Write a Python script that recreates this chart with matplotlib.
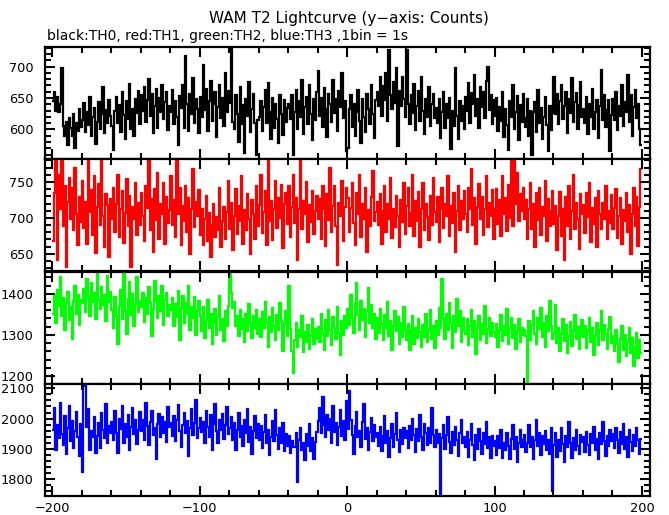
"""WAM T2 light curve: four threshold channels stacked, 1 s bins."""

from __future__ import annotations

import matplotlib

matplotlib.use("Agg")
import matplotlib.pyplot as plt
import numpy as np
from matplotlib.ticker import MultipleLocator

plt.rcParams["font.family"] = ["DejaVu Sans"]

TITLE = "WAM T2 Lightcurve (y\u2212axis: Counts)"
SUBTITLE = "black:TH0, red:TH1, green:TH2, blue:TH3 ,1bin = 1s"

# bin edges in seconds, 1 s per bin
time_start = -200
time_stop = 200

# counts per 1 s bin (20 bins per row)
th0_counts = [
    645, 660, 630, 652, 628, 641, 697, 606, 590, 612, 575, 618, 602, 589, 624, 571, 610, 598, 633, 604,
    615, 642, 596, 628, 607, 651, 589, 620, 634, 577, 612, 643, 600, 625, 668, 594, 631, 610, 646, 622,
    605, 567, 630, 652, 611, 639, 596, 660, 623, 584, 645, 617, 672, 601, 633, 590, 648, 626, 661, 609,
    654, 629, 668, 612, 647, 680, 621, 656, 594, 638, 665, 603, 650, 627, 671, 616, 643, 659, 599, 637,
    628, 662, 609, 645, 619, 575, 653, 634, 671, 602, 716, 640, 598, 657, 625, 681, 611, 648, 633, 594,
    652, 620, 703, 631, 664, 598, 645, 677, 613, 640, 659, 588, 636, 670, 618, 650, 605, 689, 627, 661,
    642, 731, 612, 600, 654, 625, 580, 667, 608, 639, 562, 648, 621, 675, 596, 633, 656, 611, 560, 615,
    619, 645, 598, 636, 662, 610, 673, 627, 585, 650, 603, 641, 616, 579, 655, 624, 591, 647, 612, 634,
    640, 617, 655, 560, 628, 662, 601, 645, 619, 678, 593, 636, 651, 608, 670, 624, 583, 648, 615, 659,
    693, 622, 650, 604, 666, 633, 588, 657, 641, 612, 679, 626, 649, 597, 661, 635, 690, 618, 645, 566,
    571, 632, 655, 604, 641, 590, 627, 662, 613, 579, 648, 620, 596, 657, 633, 608, 671, 625, 587, 646,
    659, 638, 683, 621, 669, 647, 690, 613, 727, 655, 632, 676, 642, 698, 574, 661, 637, 684, 649, 620,
    727, 641, 608, 655, 626, 672, 599, 637, 661, 614, 683, 629, 592, 648, 620, 667, 605, 640, 656, 618,
    634, 611, 649, 587, 627, 660, 603, 640, 618, 650, 569, 629, 606, 697, 622, 584, 645, 613, 638, 600,
    652, 629, 673, 611, 658, 640, 686, 622, 649, 602, 667, 635, 660, 618, 677, 700, 631, 655, 609, 646,
    621, 650, 597, 636, 613, 660, 588, 632, 607, 568, 645, 619, 671, 600, 628, 653, 583, 639, 612, 657,
    618, 604, 649, 590, 630, 560, 627, 643, 596, 662, 611, 634, 585, 620, 651, 607, 565, 638, 599, 626,
    683, 624, 656, 608, 645, 671, 617, 637, 660, 594, 649, 626, 681, 612, 643, 658, 601, 639, 676, 620,
    633, 610, 652, 593, 641, 620, 664, 601, 628, 647, 586, 637, 695, 615, 655, 604, 631, 647, 566, 623,
    648, 615, 660, 599, 637, 622, 671, 606, 643, 628, 686, 612, 654, 590, 635, 663, 618, 641, 600, 575,
]
th1_counts = [
    668, 735, 790, 642, 760, 712, 790, 688, 745, 631, 722, 756, 698, 741, 683, 770, 705, 662, 729, 694,
    751, 686, 722, 664, 790, 708, 739, 676, 758, 651, 715, 747, 690, 788, 702, 659, 733, 718, 645, 726,
    699, 742, 681, 720, 760, 673, 712, 738, 665, 707, 754, 688, 730, 632, 715, 699, 748, 676, 721, 690,
    735, 702, 668, 745, 714, 790, 683, 726, 652, 740, 697, 763, 671, 719, 706, 748, 664, 729, 693, 711,
    758, 690, 725, 673, 790, 706, 741, 662, 717, 695, 744, 681, 728, 650, 712, 768, 687, 722, 703, 739,
    676, 712, 662, 698, 730, 668, 707, 645, 690, 720, 673, 701, 683, 742, 660, 695, 715, 670, 708, 752,
    685, 721, 655, 703, 740, 677, 716, 696, 758, 664, 711, 683, 733, 698, 650, 725, 705, 671, 744, 689,
    718, 760, 679, 708, 737, 662, 790, 695, 724, 669, 713, 751, 686, 727, 700, 746, 658, 719, 734, 692,
    745, 673, 715, 760, 693, 728, 641, 712, 789, 684, 723, 705, 750, 666, 718, 694, 737, 677, 710, 730,
    698, 726, 670, 745, 712, 661, 733, 697, 770, 680, 717, 744, 689, 634, 721, 703, 752, 668, 715, 741,
    727, 681, 714, 748, 693, 662, 735, 706, 760, 674, 719, 699, 741, 653, 711, 688, 729, 765, 695, 708,
    722, 690, 733, 664, 710, 745, 681, 719, 698, 756, 672, 712, 687, 731, 703, 660, 725, 694, 748, 677,
    716, 742, 688, 707, 760, 675, 723, 696, 736, 659, 712, 748, 683, 720, 701, 669, 731, 690, 755, 708,
    694, 729, 667, 712, 741, 686, 720, 703, 758, 675, 716, 693, 734, 652, 710, 745, 683, 724, 698, 737,
    705, 680, 741, 712, 768, 690, 727, 664, 715, 747, 698, 729, 676, 712, 758, 687, 721, 702, 739, 671,
    713, 740, 691, 725, 675, 759, 706, 728, 682, 746, 700, 781, 688, 790, 720, 762, 695, 733, 710, 742,
    699, 725, 670, 712, 748, 684, 719, 660, 734, 697, 741, 676, 715, 703, 752, 668, 726, 689, 710, 738,
    691, 717, 655, 702, 736, 675, 712, 642, 729, 688, 745, 670, 710, 760, 684, 721, 699, 657, 733, 706,
    718, 679, 735, 701, 749, 667, 714, 692, 728, 660, 738, 705, 684, 721, 698, 745, 671, 710, 693, 732,
    685, 714, 740, 672, 703, 727, 664, 711, 696, 735, 680, 718, 650, 706, 741, 688, 729, 661, 715, 768,
]
th2_counts = [
    1352, 1395, 1328, 1410, 1371, 1440, 1345, 1389, 1312, 1377, 1405, 1336, 1368, 1291, 1383, 1420, 1350, 1397, 1325, 1386,
    1378, 1412, 1356, 1436, 1391, 1347, 1425, 1380, 1402, 1339, 1448, 1386, 1364, 1417, 1372, 1398, 1333, 1444, 1381, 1405,
    1360, 1318, 1392, 1345, 1277, 1371, 1410, 1338, 1447, 1359, 1302, 1387, 1428, 1349, 1399, 1322, 1375, 1441, 1356, 1383,
    1368, 1402, 1331, 1389, 1350, 1416, 1378, 1297, 1364, 1431, 1382, 1340, 1395, 1358, 1419, 1325, 1384, 1403, 1347, 1372,
    1361, 1389, 1322, 1376, 1343, 1406, 1288, 1365, 1394, 1330, 1378, 1352, 1420, 1311, 1369, 1340, 1391, 1300, 1357, 1382,
    1345, 1310, 1368, 1292, 1337, 1385, 1318, 1350, 1278, 1329, 1362, 1301, 1344, 1395, 1313, 1338, 1286, 1357, 1322, 1371,
    1448, 1402, 1365, 1380, 1322, 1346, 1298, 1361, 1315, 1339, 1283, 1352, 1310, 1374, 1328, 1293, 1345, 1316, 1360, 1302,
    1338, 1295, 1356, 1317, 1381, 1328, 1270, 1343, 1306, 1365, 1321, 1287, 1349, 1312, 1377, 1334, 1260, 1326, 1359, 1298,
    1420, 1315, 1262, 1208, 1287, 1330, 1271, 1312, 1294, 1346, 1258, 1308, 1283, 1325, 1266, 1301, 1339, 1277, 1315, 1290,
    1320, 1284, 1352, 1305, 1263, 1337, 1298, 1361, 1311, 1276, 1343, 1318, 1290, 1369, 1305, 1252, 1333, 1299, 1346, 1316,
    1362, 1323, 1398, 1340, 1305, 1377, 1426, 1349, 1311, 1383, 1337, 1364, 1296, 1358, 1415, 1330, 1372, 1318, 1351, 1289,
    1341, 1305, 1362, 1326, 1287, 1349, 1316, 1380, 1298, 1335, 1264, 1322, 1357, 1309, 1343, 1277, 1330, 1296, 1368, 1311,
    1288, 1327, 1263, 1312, 1345, 1279, 1318, 1293, 1339, 1306, 1271, 1325, 1296, 1352, 1283, 1314, 1360, 1290, 1322, 1268,
    1335, 1301, 1366, 1318, 1435, 1339, 1290, 1352, 1312, 1377, 1328, 1269, 1345, 1306, 1388, 1321, 1357, 1283, 1341, 1310,
    1302, 1338, 1275, 1321, 1360, 1295, 1334, 1254, 1317, 1346, 1288, 1326, 1303, 1371, 1280, 1315, 1342, 1297, 1329, 1308,
    1296, 1327, 1270, 1311, 1348, 1285, 1322, 1301, 1362, 1279, 1316, 1340, 1292, 1325, 1266, 1309, 1338, 1283, 1318, 1299,
    1312, 1297, 1185, 1335, 1288, 1325, 1359, 1303, 1277, 1340, 1315, 1366, 1294, 1328, 1270, 1345, 1310, 1382, 1321, 1290,
    1305, 1372, 1281, 1318, 1262, 1303, 1339, 1286, 1325, 1256, 1297, 1331, 1272, 1310, 1348, 1289, 1320, 1266, 1301, 1336,
    1294, 1321, 1268, 1309, 1342, 1283, 1317, 1251, 1298, 1330, 1276, 1311, 1358, 1288, 1324, 1302, 1265, 1315, 1343, 1280,
    1297, 1260, 1313, 1278, 1235, 1290, 1322, 1264, 1301, 1248, 1283, 1316, 1256, 1292, 1225, 1270, 1305, 1243, 1288, 1257,
]
th3_counts = [
    1962, 2035, 1897, 1978, 1935, 2052, 1948, 1912, 2010, 1883, 1969, 2041, 1926, 1991, 1904, 1958, 2023, 1939, 1876, 1983,
    1825, 2108, 2112, 1972, 2031, 1895, 1959, 1941, 2004, 1888, 1944, 1986, 1903, 2019, 1962, 1935, 2047, 1918, 1977, 1951,
    1990, 1928, 2026, 1954, 1887, 2000, 1967, 2043, 1921, 1981, 1940, 2012, 1898, 1973, 2035, 1949, 1994, 1916, 1963, 2021,
    1958, 1997, 1930, 2052, 1976, 1913, 1989, 2024, 1945, 1969, 1868, 1982, 2015, 1939, 2006, 1952, 1990, 1924, 2038, 1971,
    1985, 1943, 2010, 1927, 1996, 2044, 1960, 1905, 1979, 2018, 1951, 1993, 1876, 1968, 2031, 1947, 1984, 2060, 1936, 1970,
    2002, 1955, 1988, 1919, 2026, 1973, 1940, 2011, 1896, 1982, 2047, 1958, 1921, 1995, 1964, 2015, 1933, 1979, 2037, 1950,
    1968, 2004, 1929, 1985, 1898, 1962, 2020, 1941, 1977, 1909, 1996, 1952, 2033, 1924, 1971, 1882, 1959, 2008, 1937, 1983,
    1931, 1974, 1902, 1955, 2012, 1918, 1963, 1879, 1940, 1992, 1926, 2028, 1947, 1900, 1968, 1921, 1985, 1894, 1950, 1911,
    1943, 1888, 1927, 1906, 1905, 1952, 1790, 1931, 1968, 1896, 1919, 1863, 1948, 1910, 1983, 1892, 1935, 1867, 1924, 1956,
    1991, 2036, 1952, 2070, 1979, 1940, 2013, 1963, 1998, 1921, 2042, 1955, 1986, 1912, 1971, 2027, 1944, 1993, 1930, 2058,
    1965, 2090, 1997, 1945, 1884, 1976, 2021, 1939, 1960, 1907, 1988, 2049, 1934, 1968, 1896, 1957, 2003, 1925, 1979, 1941,
    1952, 1910, 1971, 1893, 1944, 2007, 1920, 1958, 1875, 1936, 1982, 1905, 1949, 2018, 1928, 1890, 1963, 1917, 1970, 1935,
    1958, 1904, 1975, 1930, 2000, 1947, 1889, 1966, 1925, 2011, 1940, 1898, 1982, 1953, 1912, 1969, 1921, 2036, 1945, 1908,
    1964, 1918, 1950, 1752, 1935, 1979, 1899, 1946, 2004, 1923, 1887, 1957, 1912, 1971, 1930, 1876, 1952, 1996, 1920, 1941,
    1908, 1955, 1873, 1930, 1981, 1914, 1862, 1947, 1899, 1966, 1925, 1883, 1952, 1917, 1990, 1904, 1938, 1869, 1943, 1911,
    1925, 1880, 1944, 1902, 1961, 1870, 1921, 1895, 1953, 1911, 1868, 1934, 1979, 1899, 1940, 1857, 1918, 1963, 1906, 1930,
    1947, 1889, 1920, 1978, 1905, 1938, 1866, 1929, 1995, 1910, 1953, 1879, 1942, 1917, 1960, 1895, 1931, 1882, 1969, 1760,
    1912, 1954, 1875, 1930, 1893, 1968, 1915, 1857, 1942, 1906, 1988, 1921, 1869, 1937, 1898, 1961, 1910, 1882, 1946, 1924,
    1939, 1890, 1957, 1912, 1881, 1948, 1920, 1973, 1898, 1934, 1866, 1951, 1915, 1990, 1925, 1877, 1944, 1909, 1962, 1926,
    1948, 1903, 1970, 1928, 1886, 1955, 1917, 1981, 1899, 1940, 1872, 1961, 1922, 1893, 1947, 1910, 1968, 1929, 1885, 1934,
]

channel_colors = ["black", "red", "#00ff00", "blue"]
channel_ylims = [(553, 731), (626, 782), (1182, 1454), (1745, 2114)]
channel_major = [50, 50, 100, 100]
channel_minor = [10, 10, 20, 20]


def style_axis(ax: plt.Axes, major: float, minor: float, show_xlabels: bool) -> None:
    """Inward ticks on all four sides, thick frame."""
    for spine in ax.spines.values():
        spine.set_linewidth(1.6)
    ax.xaxis.set_major_locator(MultipleLocator(100))
    ax.xaxis.set_minor_locator(MultipleLocator(20))
    ax.yaxis.set_major_locator(MultipleLocator(major))
    ax.yaxis.set_minor_locator(MultipleLocator(minor))
    ax.tick_params(which="both", direction="in", top=True, right=True, width=1.5, labelsize=9.3)
    ax.tick_params(which="major", length=7)
    ax.tick_params(which="minor", length=4)
    ax.tick_params(axis="y", pad=8)
    ax.tick_params(axis="x", pad=4, labelbottom=show_xlabels)


def main() -> None:
    fig = plt.figure(figsize=(6.69, 5.15), dpi=100)
    edges = np.arange(time_start, time_stop + 1)
    series = [th0_counts, th1_counts, th2_counts, th3_counts]

    left, width = 45 / 669, 605 / 669
    panel_tops = [47, 159, 271.5, 384]
    panel_height = 112
    for i, counts in enumerate(series):
        bottom = 1 - (panel_tops[i] + panel_height) / 515
        ax = fig.add_axes([left, bottom, width, panel_height / 515])
        # baseline=None: no drop lines at the two ends
        ax.stairs(counts, edges, baseline=None, color=channel_colors[i], linewidth=1.6)
        ax.set_xlim(-205, 205.5)
        ax.set_ylim(*channel_ylims[i])
        style_axis(ax, channel_major[i], channel_minor[i], show_xlabels=(i == 3))

    fig.text(348.5 / 669, 1 - 18 / 515, TITLE, ha="center", va="center", fontsize=11)
    fig.text(47 / 669, 1 - 36 / 515, SUBTITLE, ha="left", va="center", fontsize=10)
    fig.savefig("out.png", dpi=100)
    plt.close(fig)


if __name__ == "__main__":
    main()
